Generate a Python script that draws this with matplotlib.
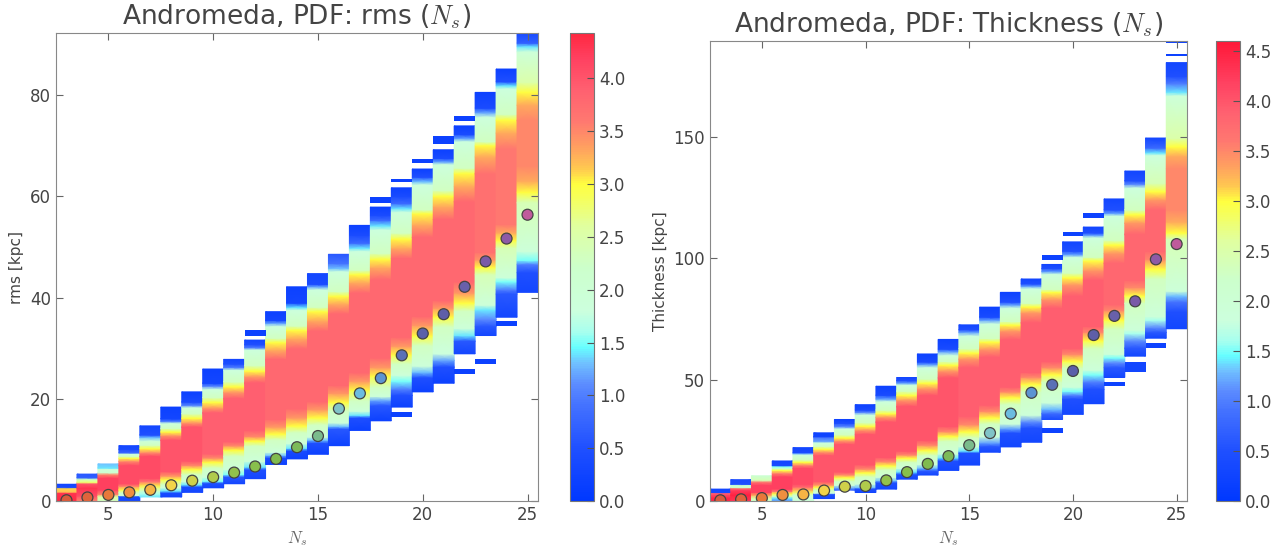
import matplotlib
matplotlib.use('Agg')
import matplotlib.pyplot as plt
from matplotlib.colors import LinearSegmentedColormap, Normalize
from matplotlib.cm import ScalarMappable

plt.rcParams['font.family'] = ['DejaVu Sans']
plt.rcParams['mathtext.fontset'] = 'cm'

ns = list(range(3, 26))

# rms panel: for each N_s column, (rms [kpc], log10 density) read bottom -> top
rms_profiles = [
    [(0, 4.4), (1.6, 4.3), (1.8, 3.2), (2.5, 3.1), (2.7, 0.4), (3.3, 0.3)],
    [(0, 3.5), (1.0, 4.1), (2.5, 4.3), (3.4, 4.0), (3.7, 2.8), (4.3, 2.2), (4.6, 0.7), (5.3, 0.6)],
    [(0, 2.3), (0.9, 2.6), (1.3, 3.5), (2.2, 4.2), (4.5, 4.2), (5.2, 3.5), (5.6, 2.1), (6.3, 1.9), (6.5, 1.4), (7.3, 1.3)],
    [(0, 0.3), (0.9, 0.4), (1.1, 1.9), (1.7, 2.3), (2.2, 3.0), (2.9, 3.5), (3.4, 4.1), (7.0, 4.1), (7.8, 3.5),
     (8.4, 3.0), (8.8, 2.3), (9.3, 1.8), (9.5, 0.8), (10.2, 0.4), (10.9, 0.3)],
    [(0.8, 1.4), (1.4, 1.6), (2.0, 2.2), (2.7, 2.8), (3.2, 3.1), (3.8, 3.6), (4.5, 4.1), (8.8, 4.1), (9.5, 3.5),
     (10.3, 3.0), (11.0, 2.3), (11.8, 1.9), (12.5, 1.3), (13.0, 0.5), (14.8, 0.3)],
    [(0.8, 0.3), (1.6, 0.4), (2.0, 1.4), (2.6, 1.9), (3.3, 2.3), (4.2, 3.0), (4.9, 3.4), (5.8, 4.0), (12.0, 4.0),
     (12.9, 3.4), (13.6, 3.0), (14.3, 2.3), (15.3, 1.8), (15.7, 1.0), (16.2, 0.3), (18.5, 0.2)],
    [(1.7, 0.3), (2.8, 0.4), (3.2, 1.4), (3.8, 1.9), (5.2, 2.3), (6.2, 3.0), (7.0, 3.5), (7.9, 4.0), (14.6, 4.0),
     (15.4, 3.4), (16.3, 3.0), (17.2, 2.3), (18.4, 1.8), (18.8, 1.1), (19.5, 0.4), (21.5, 0.2)],
    [(2.6, 0.3), (3.5, 0.5), (3.9, 1.5), (4.7, 1.9), (6.5, 2.3), (7.6, 3.0), (8.5, 3.5), (9.3, 3.9), (17.4, 3.9),
     (18.3, 3.4), (19.4, 3.0), (20.4, 2.3), (22.0, 1.8), (22.6, 1.1), (23.2, 0.3), (26.0, 0.2)],
    [(3.4, 0.3), (4.8, 0.6), (5.2, 1.5), (6.2, 1.9), (8.8, 2.3), (10.0, 3.0), (10.9, 3.5), (11.7, 3.9), (20.2, 3.9),
     (21.4, 3.4), (22.5, 3.0), (23.5, 2.3), (25.8, 1.8), (26.3, 1.0), (27.0, 0.5), (27.9, 0.3)],
    [(4.4, 0.3), (6.2, 0.5), (6.7, 1.4), (7.8, 1.9), (10.8, 2.3), (11.8, 3.0), (12.7, 3.5), (13.9, 3.9), (23.3, 3.9),
     (24.5, 3.4), (25.6, 3.0), (26.7, 2.3), (29.8, 1.8), (30.2, 1.0), (30.8, 0.5), (31.7, 0.3)],
    [(7.2, 0.2), (8.5, 0.4), (9.0, 1.3), (9.6, 1.9), (12.0, 2.3), (13.2, 3.0), (14.6, 3.4), (16.1, 3.8), (27.9, 3.8),
     (29.7, 3.3), (31.2, 3.0), (32.1, 2.3), (34.4, 1.8), (35.0, 1.2), (35.6, 0.3), (37.3, 0.2)],
    [(8.3, 0.2), (9.9, 0.4), (10.4, 1.4), (11.3, 1.9), (13.5, 2.3), (14.8, 3.0), (16.4, 3.4), (18.2, 3.8), (30.0, 3.8),
     (32.0, 3.3), (33.6, 3.0), (34.5, 2.3), (37.6, 1.8), (38.1, 1.4), (39.0, 0.3), (42.2, 0.2)],
    [(9.2, 0.2), (11.4, 0.5), (12.0, 1.3), (12.6, 1.9), (15.0, 2.3), (16.4, 3.0), (18.0, 3.4), (19.6, 3.8), (33.5, 3.8),
     (35.5, 3.3), (37.3, 3.0), (38.2, 2.3), (41.6, 1.8), (42.2, 1.2), (42.7, 0.4), (44.8, 0.3)],
    [(10.9, 0.2), (14.2, 0.6), (14.7, 1.3), (15.4, 1.9), (17.8, 2.3), (19.4, 3.0), (21.2, 3.4), (22.8, 3.8), (36.9, 3.8),
     (38.8, 3.3), (40.3, 3.0), (41.3, 2.3), (45.2, 1.8), (45.8, 1.3), (46.8, 0.9), (48.6, 0.6)],
    [(13.9, 0.2), (16.4, 0.5), (16.9, 1.4), (17.7, 1.9), (19.8, 2.3), (21.8, 3.0), (23.6, 3.4), (25.3, 3.8), (41.0, 3.8),
     (43.0, 3.3), (44.6, 3.0), (45.5, 2.3), (49.2, 1.8), (49.8, 1.4), (50.8, 0.8), (52.4, 0.4), (54.3, 0.2)],
    [(15.8, 0.2), (18.8, 0.6), (19.8, 1.2), (20.6, 1.9), (22.4, 2.3), (24.6, 3.0), (26.3, 3.4), (28.2, 3.8), (43.6, 3.8),
     (46.0, 3.3), (47.6, 3.0), (48.8, 2.3), (53.4, 1.8), (54.2, 1.4), (55.3, 0.8), (56.3, 0.4), (57.9, 0.2)],
    [(18.5, 0.2), (20.8, 0.5), (22.0, 1.0), (23.6, 1.5), (24.8, 1.9), (27.0, 2.3), (28.8, 3.0), (30.5, 3.4), (32.3, 3.8),
     (47.8, 3.8), (49.8, 3.3), (51.6, 3.0), (52.8, 2.3), (56.9, 1.8), (57.6, 1.4), (58.6, 0.8), (60.0, 0.4), (61.7, 0.2)],
    [(21.5, 0.2), (24.3, 0.5), (25.4, 1.3), (26.6, 1.9), (30.6, 2.3), (32.5, 3.0), (34.6, 3.4), (36.4, 3.8), (52.0, 3.8),
     (54.4, 3.3), (56.6, 3.0), (57.4, 2.3), (62.3, 1.8), (62.9, 1.3), (63.8, 0.5), (65.4, 0.2)],
    [(23.2, 0.2), (26.4, 0.5), (27.7, 1.2), (29.0, 1.8), (34.3, 2.3), (36.2, 3.0), (38.0, 3.4), (39.5, 3.8), (55.5, 3.8),
     (58.0, 3.3), (60.0, 3.0), (61.2, 2.3), (66.3, 1.8), (66.8, 1.2), (67.5, 0.4), (69.2, 0.2)],
    [(29.0, 0.3), (31.5, 0.6), (32.6, 1.4), (34.0, 1.9), (37.4, 2.3), (39.0, 3.0), (41.0, 3.4), (43.2, 3.8), (59.0, 3.8),
     (62.0, 3.3), (64.5, 3.0), (65.6, 2.3), (70.8, 1.8), (71.4, 1.2), (72.2, 0.4), (73.9, 0.2)],
    [(32.6, 0.3), (34.4, 0.6), (35.8, 1.1), (37.6, 1.4), (38.6, 1.9), (44.6, 2.4), (46.0, 3.0), (47.5, 3.4), (49.0, 3.7),
     (64.5, 3.7), (67.8, 3.3), (70.0, 3.0), (70.8, 2.3), (75.6, 1.8), (76.5, 1.2), (77.4, 0.4), (80.5, 0.2)],
    [(36.2, 0.3), (40.8, 0.6), (41.6, 1.0), (43.2, 1.5), (44.0, 1.9), (49.8, 2.4), (51.3, 3.0), (52.8, 3.3), (54.5, 3.6),
     (69.4, 3.6), (72.5, 3.3), (75.0, 3.0), (76.2, 2.3), (81.2, 1.8), (81.8, 1.4), (82.6, 0.5), (85.1, 0.2)],
    [(41.1, 0.3), (45.0, 0.5), (46.6, 1.0), (47.4, 1.5), (49.2, 1.9), (58.8, 2.4), (60.8, 3.0), (63.0, 3.3), (66.0, 3.5),
     (75.0, 3.5), (78.0, 3.3), (80.5, 3.0), (82.5, 2.5), (88.5, 1.9), (89.5, 1.4), (90.2, 0.7), (92.4, 0.3)],
]
# isolated bins outside the main body of a column
rms_out_n = [12, 18, 19, 19, 20, 21, 22, 22, 23, 24]
rms_out_lo = [32.6, 58.8, 16.5, 62.8, 66.5, 70.3, 25.1, 74.9, 27.0, 34.5]
rms_out_hi = [33.6, 59.9, 17.5, 63.5, 67.4, 72.0, 26.0, 75.8, 27.9, 35.4]
rms_out_v = [0.2, 0.2, 0.2, 0.2, 0.2, 0.2, 0.2, 0.2, 0.2, 0.2]
rms_median = [0.15, 0.7, 1.2, 1.7, 2.2, 3.1, 4.0, 4.7, 5.6, 6.8, 8.3, 10.6, 12.8, 18.2, 21.2, 24.2,
              28.7, 33.0, 36.8, 42.2, 47.2, 51.7, 56.4]

# Thickness panel
thick_profiles = [
    [(0, 4.5), (1.5, 4.4), (2.8, 4.0), (3.3, 3.9), (3.5, 0.4), (4.9, 0.3)],
    [(0, 4.3), (2.5, 4.5), (4.5, 4.2), (5.3, 3.6), (5.6, 2.2), (6.6, 2.0), (6.9, 0.5), (8.8, 0.4)],
    [(0, 2.1), (1.2, 2.5), (2.4, 3.3), (3.6, 4.2), (6.5, 4.2), (7.8, 3.6), (8.6, 2.4), (10.4, 2.0)],
    [(0, 1.1), (1.2, 1.4), (2.0, 2.3), (3.0, 3.0), (4.0, 3.6), (5.0, 4.2), (10.0, 4.2), (11.5, 3.5), (12.6, 3.0),
     (13.4, 2.2), (14.3, 1.5), (14.6, 0.4), (16.5, 0.3)],
    [(0, 1.9), (2.5, 2.1), (3.4, 2.8), (4.5, 3.2), (5.8, 3.8), (7.0, 4.1), (13.5, 4.1), (14.8, 3.5), (16.0, 3.0),
     (17.0, 2.3), (19.0, 1.8), (19.6, 1.2), (20.0, 0.4), (22.0, 0.3)],
    [(1.0, 0.3), (2.8, 0.5), (3.3, 1.8), (4.6, 2.3), (5.6, 3.0), (6.6, 3.4), (8.0, 4.0), (18.8, 4.0), (20.2, 3.4),
     (21.4, 3.0), (22.5, 2.3), (24.0, 1.8), (24.6, 1.2), (26.2, 0.9), (26.6, 0.3), (28.1, 0.2)],
    [(4.5, 0.6), (5.4, 1.2), (6.5, 1.9), (8.2, 2.3), (9.6, 3.0), (10.8, 3.5), (12.0, 4.0), (23.4, 4.0), (24.8, 3.4),
     (26.0, 3.0), (27.3, 2.3), (29.8, 1.8), (30.6, 1.1), (32.0, 0.5), (33.6, 0.2)],
    [(3.5, 0.3), (5.0, 0.5), (5.6, 1.3), (7.0, 1.9), (10.0, 2.3), (11.6, 3.0), (13.2, 3.5), (15.0, 4.0), (27.5, 4.0),
     (29.2, 3.4), (30.8, 3.0), (32.3, 2.3), (35.5, 1.8), (36.5, 1.1), (37.5, 0.4), (39.7, 0.2)],
    [(4.9, 0.3), (7.6, 0.5), (8.4, 1.3), (9.8, 1.9), (12.8, 2.3), (14.5, 3.0), (16.2, 3.5), (18.0, 4.0), (32.6, 4.0),
     (34.5, 3.4), (36.0, 3.0), (37.5, 2.3), (41.0, 1.8), (42.0, 1.2), (43.6, 0.4), (47.3, 0.2)],
    [(9.0, 0.3), (11.0, 0.5), (12.0, 1.4), (13.4, 1.9), (16.0, 2.3), (17.6, 3.0), (19.0, 3.5), (20.6, 4.0), (39.0, 4.0),
     (41.5, 3.4), (43.5, 3.0), (45.3, 2.3), (47.8, 1.8), (48.6, 1.2), (49.6, 0.5), (50.9, 0.3)],
    [(10.7, 0.3), (12.4, 0.6), (13.6, 1.3), (15.0, 1.9), (18.8, 2.3), (20.8, 3.0), (23.0, 3.5), (25.0, 4.0), (43.5, 4.0),
     (46.3, 3.4), (48.6, 3.0), (50.3, 2.3), (55.0, 1.8), (56.2, 1.2), (57.3, 0.4), (60.6, 0.2)],
    [(12.6, 0.3), (16.6, 0.5), (17.8, 1.4), (19.4, 1.9), (24.6, 2.3), (26.6, 3.0), (28.6, 3.5), (30.8, 4.0), (50.8, 4.0),
     (53.5, 3.4), (56.0, 3.0), (57.5, 2.3), (60.0, 1.8), (61.5, 1.2), (62.6, 0.4), (66.6, 0.2)],
    [(14.8, 0.3), (19.8, 0.5), (20.6, 1.4), (22.4, 1.9), (26.0, 2.3), (28.5, 3.0), (31.5, 3.5), (35.0, 3.9), (55.0, 3.9),
     (58.5, 3.4), (61.0, 3.0), (62.8, 2.3), (68.0, 1.8), (69.5, 1.2), (70.6, 0.5), (72.6, 0.3)],
    [(20.1, 0.3), (22.5, 0.6), (24.0, 1.2), (26.5, 1.9), (31.8, 2.3), (34.2, 3.0), (37.0, 3.5), (39.6, 3.9), (59.3, 3.9),
     (62.5, 3.4), (65.5, 3.0), (67.0, 2.3), (73.0, 1.8), (74.5, 1.2), (75.8, 0.4), (79.9, 0.2)],
    [(22.3, 0.3), (28.0, 0.5), (29.8, 1.2), (31.8, 1.9), (39.8, 2.3), (42.5, 3.0), (45.0, 3.5), (47.0, 3.9), (66.5, 3.9),
     (70.0, 3.4), (72.5, 3.0), (74.0, 2.3), (79.5, 1.8), (80.8, 1.2), (82.0, 0.5), (86.0, 0.2)],
    [(24.2, 0.3), (30.0, 0.5), (32.6, 1.1), (35.4, 1.9), (45.0, 2.3), (48.0, 3.0), (51.0, 3.5), (53.0, 3.9), (73.5, 3.9),
     (77.5, 3.4), (80.0, 3.0), (81.5, 2.3), (87.5, 1.8), (88.5, 1.2), (89.5, 0.5), (91.5, 0.3)],
    [(33.6, 0.4), (36.0, 0.8), (37.9, 1.3), (40.5, 1.9), (49.0, 2.3), (52.0, 3.0), (55.0, 3.5), (57.5, 3.9), (79.5, 3.9),
     (83.0, 3.4), (86.0, 3.0), (87.2, 2.3), (93.5, 1.8), (94.5, 1.2), (95.8, 0.5), (97.5, 0.3)],
    [(35.7, 0.3), (42.0, 0.5), (43.5, 1.0), (45.2, 1.5), (47.0, 1.9), (54.8, 2.3), (57.5, 3.0), (60.5, 3.5), (63.0, 3.9),
     (84.5, 3.9), (89.0, 3.4), (92.0, 3.0), (94.0, 2.3), (100.5, 1.8), (101.5, 1.2), (103.0, 0.5), (106.8, 0.3)],
    [(40.1, 0.3), (46.0, 0.5), (49.0, 1.0), (52.0, 1.5), (54.0, 1.9), (62.8, 2.3), (66.0, 3.0), (69.5, 3.5), (72.0, 3.9),
     (91.0, 3.9), (95.0, 3.4), (99.0, 3.0), (100.5, 2.3), (108.5, 1.8), (109.5, 1.2), (110.5, 0.5), (112.9, 0.3)],
    [(50.9, 0.3), (55.0, 0.6), (57.0, 1.1), (59.0, 1.5), (60.5, 1.9), (70.8, 2.3), (74.5, 3.0), (78.5, 3.5), (81.0, 3.8),
     (98.0, 3.8), (102.0, 3.4), (105.5, 3.0), (107.5, 2.3), (117.5, 1.8), (118.5, 1.2), (120.0, 0.5), (124.5, 0.3)],
    [(59.7, 0.3), (63.0, 0.6), (66.0, 1.1), (69.0, 1.6), (70.5, 1.9), (81.5, 2.3), (84.5, 3.0), (88.0, 3.5), (91.0, 3.8),
     (110.0, 3.8), (114.5, 3.4), (118.0, 3.0), (120.0, 2.3), (129.0, 1.8), (130.5, 1.1), (132.0, 0.5), (136.0, 0.3)],
    [(67.1, 0.3), (69.5, 0.6), (71.5, 1.1), (74.5, 1.6), (76.0, 1.9), (91.5, 2.3), (95.5, 3.0), (99.5, 3.5), (103.0, 3.8),
     (120.0, 3.8), (124.0, 3.4), (127.5, 3.0), (131.0, 2.4), (142.5, 1.8), (143.5, 1.4), (145.5, 0.8), (149.6, 0.3)],
    [(71.0, 0.3), (78.0, 0.5), (82.0, 0.9), (84.5, 1.3), (86.5, 1.9), (108.0, 2.4), (110.5, 3.0), (115.0, 3.3),
     (120.0, 3.5), (137.0, 3.5), (142.0, 3.3), (146.0, 3.0), (149.5, 2.5), (167.0, 1.9), (168.5, 1.4), (172.0, 1.0),
     (175.0, 0.5), (180.7, 0.3)],
]
thick_out_n = [19, 19, 20, 21, 22, 23, 24, 25, 25]
thick_out_lo = [28.1, 99.4, 109.1, 116.8, 47.3, 53.2, 63.0, 183.3, 188.6]
thick_out_hi = [30.0, 101.3, 111.0, 118.7, 49.2, 57.3, 65.0, 184.4, 189.6]
thick_out_v = [0.2, 0.2, 0.2, 0.2, 0.2, 0.3, 0.2, 0.2, 0.2]
thick_median = [0.3, 0.7, 1.2, 2.5, 2.7, 4.3, 5.9, 6.2, 8.5, 11.9, 15.3, 18.5, 23.0, 28.0, 36.0, 44.6,
                47.9, 53.6, 68.4, 76.3, 82.3, 99.6, 105.9]

marker_colors = ['#d95b3c', '#e0643c', '#e8783a', '#ef8f40', '#f5b445', '#f2d44a', '#cfd04a', '#b0cb4c',
                 '#92c24c', '#88bf4c', '#80bb4e', '#7cba58', '#7abb8c', '#80c4c8', '#6cbce0', '#5c94d2',
                 '#5a70b6', '#5a60aa', '#5e5ea8', '#6860aa', '#7a5aa8', '#8e5aa6', '#c05a9c']

# colour of the density scale at given log10 values
cmap_nodes = [(0.0, '#0038ff'), (0.5, '#2050ff'), (0.9, '#4472ff'), (1.1, '#5c8cff'), (1.3, '#70c0ff'),
              (1.45, '#66ffff'), (1.6, '#a8ffee'), (1.8, '#ccffdd'), (2.2, '#ccffcc'), (2.6, '#e0ffa0'),
              (2.85, '#f4ff60'), (3.0, '#ffff40'), (3.15, '#ffc850'), (3.35, '#ffa060'), (3.6, '#ff7870'),
              (3.9, '#ff6070'), (4.2, '#ff4060'), (4.6, '#ff1030')]


def make_cmap(vmax):
    pts = [(v / vmax, c) for v, c in cmap_nodes if v < vmax]
    pts.append((1.0, '#ff1838' if vmax > 4.5 else '#ff2840'))
    return LinearSegmentedColormap.from_list('pdf', pts)


def draw_panel(ax, cax, profiles, out_n, out_lo, out_hi, out_v, median, vmax, ylim, yticks, title, ylabel):
    cmap = make_cmap(vmax)
    norm = Normalize(0, vmax)
    for n, prof in zip(ns, profiles):
        ys = [p[0] for p in prof]
        vs = [p[1] for p in prof]
        X = [[n - 0.5, n + 0.5] for _ in ys]
        Y = [[y, y] for y in ys]
        C = [[v, v] for v in vs]
        ax.pcolormesh(X, Y, C, shading='gouraud', cmap=cmap, norm=norm)
    for n, lo, hi, v in zip(out_n, out_lo, out_hi, out_v):
        ax.pcolormesh([n - 0.5, n + 0.5], [lo, hi], [[v]], cmap=cmap, norm=norm)
    ax.scatter(ns, median, c=marker_colors, s=62, edgecolors='#444444', linewidths=0.9, zorder=5)
    ax.set_xlim(2.5, 25.5)
    ax.set_ylim(*ylim)
    ax.set_xticks([5, 10, 15, 20, 25])
    ax.set_yticks(yticks)
    ax.tick_params(direction='in', top=True, right=True, length=5, color='#666666',
                   labelcolor='#444444', labelsize=12)
    for s in ax.spines.values():
        s.set_color('#888888')
    ax.set_title(title, fontsize=19, color='#444444', pad=6)
    ax.set_ylabel(ylabel, fontsize=11, color='#444444', labelpad=4)
    ax.set_xlabel('$N_s$', fontsize=12, color='#666666', labelpad=4)

    sm = ScalarMappable(norm=norm, cmap=cmap)
    cb = plt.colorbar(sm, cax=cax, ticks=[i * 0.5 for i in range(int(vmax / 0.5) + 1)])
    cb.ax.yaxis.set_major_formatter(matplotlib.ticker.FormatStrFormatter('%.1f'))
    cb.ax.tick_params(direction='in', length=5, color='#555555', labelcolor='#444444', labelsize=12)
    cb.outline.set_edgecolor('#777777')


W, H = 1286, 552
fig = plt.figure(figsize=(W / 100, H / 100), dpi=100)
ax1 = fig.add_axes([56 / W, 51 / H, 482 / W, 468 / H])
cax1 = fig.add_axes([570 / W, 51 / H, 24 / W, 468 / H])
ax2 = fig.add_axes([710 / W, 51 / H, 477 / W, 460 / H])
cax2 = fig.add_axes([1216 / W, 51 / H, 24 / W, 460 / H])

draw_panel(ax1, cax1, rms_profiles, rms_out_n, rms_out_lo, rms_out_hi, rms_out_v, rms_median,
           4.43, (0, 92.2), [0, 20, 40, 60, 80], 'Andromeda, PDF: rms ($N_s$)', 'rms [kpc]')
draw_panel(ax2, cax2, thick_profiles, thick_out_n, thick_out_lo, thick_out_hi, thick_out_v, thick_median,
           4.6, (0, 189.6), [0, 50, 100, 150], 'Andromeda, PDF: Thickness ($N_s$)', 'Thickness [kpc]')

fig.savefig('out.png', dpi=100)
